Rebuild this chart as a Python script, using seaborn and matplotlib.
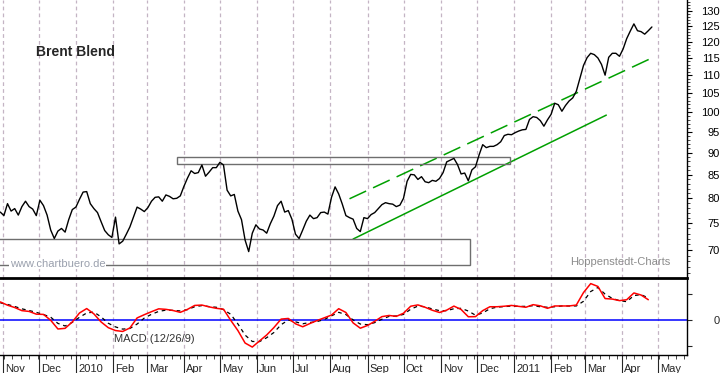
import pandas as pd
import matplotlib
matplotlib.use("Agg")
import matplotlib.pyplot as plt
import matplotlib.dates as mdates
from matplotlib.ticker import FixedLocator, FixedFormatter, NullFormatter
from matplotlib.patches import Rectangle
import seaborn as sns

sns.set_style("white")
plt.rcParams["font.family"] = ["Liberation Sans", "DejaVu Sans"]

# Brent close, every 3 calendar days from 2009-10-30
price = [77.2, 76.5, 78.9, 77.4, 77.9, 76.6, 78.3, 79.4, 78.3, 77.8,
         76.5, 79.6, 78.5, 76.6, 73.7, 72.1, 73.5, 74.0, 73.3, 75.7,
         77.7, 78.2, 79.8, 81.3, 81.4, 78.9, 77.9, 77.1, 75.3, 73.6,
         72.8, 72.3, 76.2, 71.1, 71.6, 72.9, 74.3, 76.2, 78.2, 77.8,
         77.3, 78.1, 79.4, 80.2, 80.3, 79.4, 80.7, 80.4, 79.9, 80.0,
         80.5, 82.5, 84.3, 85.9, 85.3, 85.5, 87.2, 84.7, 85.6, 86.6,
         86.6, 87.8, 87.2, 81.7, 80.5, 80.8, 77.4, 75.7, 71.8, 69.7,
         73.1, 74.7, 73.9, 73.7, 73.1, 74.9, 76.4, 78.5, 79.4, 77.2,
         77.5, 75.8, 72.9, 72.1, 73.7, 75.4, 76.6, 75.9, 76.1, 77.1,
         77.2, 76.8, 80.2, 82.4, 80.9, 78.8, 76.5, 76.1, 75.8, 74.0,
         73.4, 76.1, 75.9, 76.7, 77.1, 77.9, 78.7, 79.1, 78.9, 78.8,
         78.3, 78.6, 80.0, 83.6, 85.1, 85.0, 84.0, 84.6, 83.5, 83.3,
         83.8, 83.6, 84.2, 85.5, 87.9, 88.3, 88.7, 87.3, 85.2, 85.4,
         83.7, 86.1, 86.8, 89.5, 91.9, 91.2, 91.5, 91.5, 91.9, 92.6,
         94.1, 94.4, 94.3, 94.8, 95.2, 95.5, 95.6, 98.1, 98.8, 98.6,
         97.8, 96.4, 98.0, 99.4, 102.3, 101.9, 100.2, 101.7, 102.9, 103.7,
         105.5, 109.1, 112.8, 115.1, 116.4, 116.0, 115.0, 113.1, 110.0, 115.2,
         116.4, 116.4, 115.5, 117.7, 120.9, 123.3, 125.6, 123.4, 123.1, 122.3,
         123.4, 124.6]

# MACD (12/26/9) and signal, every 6 calendar days from 2009-10-30
macd = [1.39, 1.14, 0.96, 0.72, 0.66, 0.45, 0.43, -0.02, -0.69, -0.64,
        -0.15, 0.54, 0.88, 0.47, -0.15, -0.59, -0.81, -0.88, -0.61, 0.16,
        0.41, 0.64, 0.86, 0.82, 0.73, 0.59, 0.82, 1.12, 1.15, 1.01,
        0.90, 0.83, -0.02, -0.81, -1.77, -2.08, -1.61, -1.15, -0.58, 0.07,
        0.12, -0.29, -0.52, -0.27, -0.04, 0.17, 0.38, 0.87, 0.58, -0.22,
        -0.63, -0.42, -0.10, 0.26, 0.35, 0.28, 0.52, 1.06, 1.16, 0.98,
        0.75, 0.58, 0.76, 1.07, 0.81, 0.25, 0.26, 0.72, 1.02, 1.02,
        1.06, 1.12, 1.05, 0.98, 1.18, 1.09, 0.90, 1.08, 1.08, 1.08,
        1.15, 2.11, 2.80, 2.58, 1.65, 1.61, 1.49, 1.56, 2.08, 1.92,
        1.56]
signal = [1.32, 1.20, 1.04, 0.86, 0.73, 0.59, 0.42, 0.22, -0.26, -0.46,
          -0.18, 0.21, 0.54, 0.61, 0.24, -0.25, -0.53, -0.70, -0.65, -0.31,
          0.15, 0.44, 0.66, 0.76, 0.74, 0.70, 0.80, 1.02, 1.11, 1.03,
          0.98, 0.80, 0.44, -0.30, -1.16, -1.65, -1.66, -1.36, -0.96, -0.36,
          0.00, -0.14, -0.29, -0.19, -0.12, 0.04, 0.32, 0.59, 0.42, 0.01,
          -0.31, -0.36, -0.20, 0.06, 0.28, 0.31, 0.43, 0.83, 1.07, 1.02,
          0.85, 0.72, 0.71, 0.87, 0.90, 0.69, 0.37, 0.54, 0.87, 0.99,
          1.03, 1.07, 1.05, 1.05, 1.10, 1.02, 0.98, 1.02, 1.08, 1.08,
          1.08, 1.44, 2.19, 2.50, 1.99, 1.66, 1.49, 1.41, 1.88, 1.95,
          1.70]

# trend channel and boxes
chan_lo_dates = ["2010-08-20", "2011-03-19"]
chan_lo = [72.0, 99.2]
chan_hi_dates = ["2010-08-17", "2011-04-29"]
chan_hi = [79.9, 115.5]
box_top = ("2010-03-26", "2010-12-29", 87.4, 89.0)
box_bottom = ("2009-10-20", "2010-11-25", 67.3, 72.0)

month_labels = ["Nov", "Dec", "2010", "Feb", "Mar", "Apr", "May", "Jun", "Jul",
                "Aug", "Sep", "Oct", "Nov", "Dec", "2011", "Feb", "Mar", "Apr", "May"]
price_ticks = list(range(70, 131, 5))

price_dates = pd.date_range("2009-10-30", periods=len(price), freq="3D")
macd_dates = pd.date_range("2009-10-30", periods=len(macd), freq="6D")
months = pd.date_range("2009-11-01", periods=len(month_labels), freq="MS")
x0 = pd.Timestamp("2009-10-29 18:00")
x1 = pd.Timestamp("2011-05-25 06:00")

W, H = 723, 373
fig = plt.figure(figsize=(W / 100, H / 100), dpi=100)
ax = fig.add_axes([0, 1 - 278 / H, 687 / W, 278 / H])
ax2 = fig.add_axes([0, 1 - 355 / H, 687 / W, 77 / H])

# dashed month separators
grid_col = "#c4b4c4"
for a in (ax, ax2):
    for m in months:
        a.axvline(m, color=grid_col, lw=0.9, ls=(0, (3, 2.5)), zorder=0)

# ---- price panel
sns.lineplot(x=price_dates, y=price, ax=ax, color="black", linewidth=1, zorder=3)
ax.plot(pd.to_datetime(chan_lo_dates), chan_lo, color="#00a000", lw=1.1, zorder=2)
ax.plot(pd.to_datetime(chan_hi_dates), chan_hi, color="#00a000", lw=1.1,
        ls=(0, (12, 5)), zorder=2)
for d0, d1, lo, hi in (box_top, box_bottom):
    t0 = mdates.date2num(pd.Timestamp(d0))
    t1 = mdates.date2num(pd.Timestamp(d1))
    ax.add_patch(Rectangle((t0, lo), t1 - t0, hi - lo, fill=False,
                           edgecolor="#6e6e6e", lw=1, zorder=2))

ax.set_yscale("log")
ax.set_xlim(x0, x1)
ax.set_ylim(65.1, 133.6)
ax.yaxis.tick_right()
ax.yaxis.set_major_locator(FixedLocator(price_ticks))
ax.yaxis.set_major_formatter(FixedFormatter([str(t) for t in price_ticks]))
ax.yaxis.set_minor_locator(FixedLocator(range(66, 134)))
ax.yaxis.set_minor_formatter(NullFormatter())
ax.tick_params(axis="y", which="major", direction="out", length=3.6, width=0.8,
               pad=20, labelsize=8, right=True, left=False, colors="black")
ax.tick_params(axis="y", which="minor", direction="out", length=2, width=0.6,
               right=True, left=False)
for lbl in ax.get_yticklabels():
    lbl.set_horizontalalignment("right")
ax.set_xticks([])
ax.set_xlabel("")
ax.set_ylabel("")
for s in ("top", "left", "bottom"):
    ax.spines[s].set_visible(False)
ax.spines["right"].set_color("black")
ax.spines["right"].set_linewidth(1)

ax.text(0.0524, 0.813, "Brent Blend", transform=ax.transAxes, fontsize=10,
        fontweight="bold", va="center", ha="left")
ax.text(0.0146, 0.052, "www.chartbuero.de", transform=ax.transAxes, fontsize=8,
        color="#9aa0ad", va="center", ha="left", zorder=4,
        bbox=dict(facecolor="white", edgecolor="none", pad=0.5))
ax.text(0.83, 0.058, "Hoppenstedt-Charts", transform=ax.transAxes, fontsize=8,
        color="#8c8c8c", va="center", ha="left")

# ---- MACD panel
ax2.axhline(0, color="#0000ff", lw=1.1, zorder=1)
sns.lineplot(x=macd_dates, y=signal, ax=ax2, color="black", linewidth=0.9,
             linestyle=(0, (3, 3)), zorder=2)
sns.lineplot(x=macd_dates, y=macd, ax=ax2, color="#ff0000", linewidth=1.1, zorder=3)
ax2.set_xlim(x0, x1)
ax2.set_ylim(-2.69, 3.23)
ax2.yaxis.tick_right()
ax2.set_yticks([-2, 0, 2])
ax2.set_yticklabels(["", "0", ""])
ax2.tick_params(axis="y", which="major", direction="out", length=3.6, width=0.8,
                pad=20, labelsize=8, right=True, left=False)
for lbl in ax2.get_yticklabels():
    lbl.set_horizontalalignment("right")
ax2.xaxis.set_major_locator(mdates.MonthLocator())
ax2.xaxis.set_minor_locator(mdates.WeekdayLocator(byweekday=mdates.MO))
ax2.xaxis.set_major_formatter(NullFormatter())
ax2.tick_params(axis="x", which="major", direction="out", length=13, width=0.8,
                bottom=True, labelbottom=False)
ax2.tick_params(axis="x", which="minor", direction="out", length=3, width=0.6,
                bottom=True)
ax2.set_xlabel("")
ax2.set_ylabel("")
ax2.spines["left"].set_visible(False)
ax2.spines["top"].set_linewidth(2)
ax2.spines["top"].set_color("black")
ax2.spines["bottom"].set_color("black")
ax2.spines["bottom"].set_linewidth(1)
ax2.spines["right"].set_color("black")
ax2.spines["right"].set_linewidth(1)

ax2.text(0.166, 0.204, "MACD (12/26/9)", transform=ax2.transAxes, fontsize=8,
         color="#333333", va="center", ha="left")
for m, lab in zip(months, month_labels):
    ax2.annotate(lab, xy=(m, 0), xycoords=("data", "axes fraction"),
                 xytext=(1.5, -12.3), textcoords="offset points",
                 ha="left", va="baseline", fontsize=8, annotation_clip=False)

plt.savefig("out.png", dpi=100)
